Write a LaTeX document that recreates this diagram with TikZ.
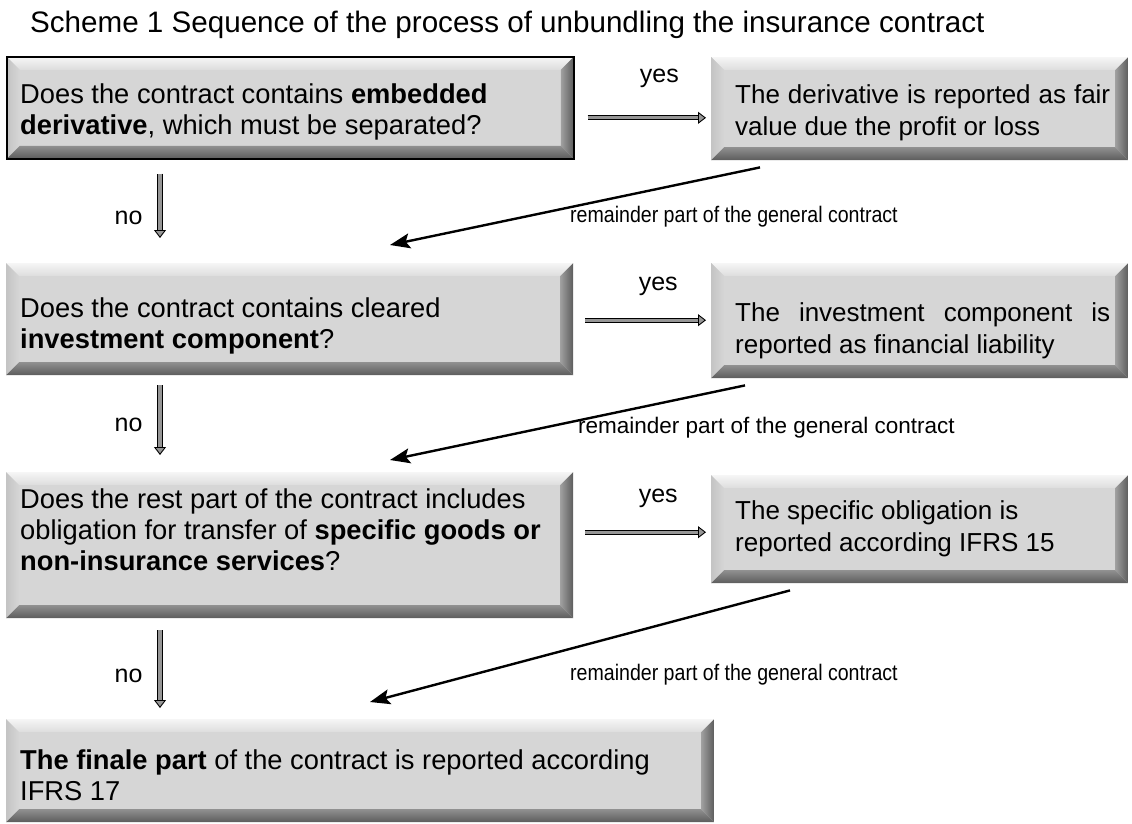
\documentclass[tikz,border=0pt]{standalone}
\usepackage{fontspec}
\setmainfont{Liberation Sans}
\usepackage{xcolor}
\usetikzlibrary{arrows.meta}
\definecolor{BoxFace}{RGB}{214,214,214}
\definecolor{BevelLight}{RGB}{246,246,246}
\definecolor{BevelSide}{RGB}{196,196,196}
\definecolor{BevelDark}{RGB}{92,92,92}
\definecolor{BevelMid}{RGB}{160,160,160}
\definecolor{ShaftGray}{RGB}{150,150,150}
\newcommand\bevelw{13pt}
\newcommand\boxfont{\fontsize{27.3}{31}\selectfont}
\newcommand\rboxfont{\fontsize{26}{32}\selectfont}
\newcommand\labfont{\fontsize{25}{30}\selectfont}
\newcommand\remfont{\fontsize{22.5}{26}\selectfont}

\tikzset{
  bevelbox/.style={rectangle, fill=BoxFace, anchor=north west, inner sep=0pt,
    path picture={
      \coordinate (bnw) at (path picture bounding box.north west);
      \coordinate (bne) at (path picture bounding box.north east);
      \coordinate (bsw) at (path picture bounding box.south west);
      \coordinate (bse) at (path picture bounding box.south east);
      % top and left faces lit, right and bottom faces in shade
      \shade[top color=BevelLight, bottom color=BoxFace!85!white]
        (bnw) -- (bne) -- ([shift={(-\bevelw,-\bevelw)}]bne) -- ([shift={(\bevelw,-\bevelw)}]bnw) -- cycle;
      \shade[left color=BevelSide, right color=BoxFace]
        (bnw) -- ([shift={(\bevelw,-\bevelw)}]bnw) -- ([shift={(\bevelw,\bevelw)}]bsw) -- (bsw) -- cycle;
      \shade[left color=BevelMid, right color=BevelDark]
        (bne) -- (bse) -- ([shift={(-\bevelw,\bevelw)}]bse) -- ([shift={(-\bevelw,-\bevelw)}]bne) -- cycle;
      \shade[top color=BevelMid!90!black, bottom color=BevelDark]
        (bsw) -- ([shift={(\bevelw,\bevelw)}]bsw) -- ([shift={(-\bevelw,\bevelw)}]bse) -- (bse) -- cycle;
    }},
  qbox/.style={bevelbox, minimum width=567pt},
  rbox/.style={bevelbox, minimum width=417pt},
  qtext/.style={anchor=west, inner sep=0pt, align=left, font=\boxfont},
  rtext/.style={anchor=west, inner sep=0pt, text width=375pt, align=justify, font=\rboxfont},
  yesarrow/.style={draw=black, line width=1.1pt, double=ShaftGray, double distance=2.8pt,
    -{Triangle[length=8pt,width=12pt,fill=ShaftGray,line width=0.9pt]}},
  noarrow/.style={yesarrow, double distance=3.8pt},
  remarrow/.style={line width=2.4pt, -{Stealth[length=20pt,width=15pt,inset=4pt]}},
  lab/.style={font=\labfont, inner sep=0pt},
  remlab/.style={anchor=west, font=\remfont, inner sep=0pt}
}

\begin{document}
\begin{tikzpicture}[x=1pt,y=-1pt]
  \useasboundingbox (0,0) rectangle (1132,823);

  \node[anchor=west, inner sep=0pt, font=\fontsize{29.6}{34}\selectfont] (title) at (30,25)
    {Scheme 1 Sequence of the process of unbundling the insurance contract};

  % question boxes on the left
  \node[qbox, draw=black, line width=1.6pt, minimum height=102pt] (q1) at (6,56) {};
  \node[qbox, minimum height=112pt] (q2) at (6,263) {};
  \node[qbox, minimum height=146pt] (q3) at (6,472) {};
  \node[bevelbox, minimum width=708pt, minimum height=103pt] (fin) at (6,719) {};

  % result boxes on the right
  \node[rbox, minimum height=103pt] (r1) at (711,57) {};
  \node[rbox, minimum height=115pt] (r2) at (711,263) {};
  \node[rbox, minimum height=108pt] (r3) at (711,475) {};

  \node[qtext] (q1txt) at ([xshift=14pt,yshift=-4pt]q1.west)
    {Does the contract contains \textbf{embedded}\\\textbf{derivative}, which must be separated?};
  \node[qtext] (q2txt) at ([xshift=14pt,yshift=-7pt]q2.west)
    {Does the contract contains cleared\\\textbf{investment component}?};
  \node[qtext] (q3txt) at ([xshift=14pt,yshift=15pt]q3.west)
    {Does the rest part of the contract includes\\obligation for transfer of \textbf{specific goods or}\\\textbf{non-insurance services}?};
  \node[qtext] (fintxt) at ([xshift=14pt,yshift=-5pt]fin.west)
    {\textbf{The finale part} of the contract is reported according\\IFRS 17};

  \node[rtext] (r1txt) at ([xshift=24pt,yshift=-4pt]r1.west)
    {The derivative is reported as fair\linebreak value due the profit or loss};
  \node[rtext] (r2txt) at ([xshift=24pt,yshift=-10pt]r2.west)
    {The investment component is\linebreak reported as financial liability};
  \node[rtext] (r3txt) at ([xshift=24pt,yshift=0pt]r3.west)
    {The specific obligation is\\reported according IFRS 15};

  % yes branches
  \coordinate (y1) at ([xshift=13pt,yshift=-10pt]q1.east);
  \coordinate (y2) at ([xshift=12pt,yshift=-1pt]q2.east);
  \coordinate (y3) at ([xshift=12pt,yshift=13pt]q3.east);
  \draw[yesarrow, shorten >=5pt] (y1) -- (y1 -| r1.west)
    node[lab, midway, xshift=10pt, yshift=39pt] (yes1) {yes};
  \draw[yesarrow, shorten >=5pt] (y2) -- (y2 -| r2.west)
    node[lab, midway, xshift=10pt, yshift=34pt] (yes2) {yes};
  \draw[yesarrow, shorten >=5pt] (y3) -- (y3 -| r3.west)
    node[lab, midway, xshift=10pt, yshift=34pt] (yes3) {yes};

  % no branches
  \draw[noarrow] ([xshift=154pt,yshift=-14pt]q1.south west) -- ([xshift=154pt,yshift=25pt]q2.north west)
    node[lab, pos=0.68, left=17pt] (no1) {no};
  \draw[noarrow] ([xshift=154pt,yshift=-10pt]q2.south west) -- ([xshift=154pt,yshift=17pt]q3.north west)
    node[lab, pos=0.57, left=17pt] (no2) {no};
  \draw[noarrow] ([xshift=154pt,yshift=-12pt]q3.south west) -- ([xshift=154pt,yshift=11pt]fin.north west)
    node[lab, pos=0.58, left=17pt] (no3) {no};

  % the remainder goes back to the next question
  \draw[remarrow] ([xshift=49pt,yshift=-7pt]r1.south west) -- ([xshift=384pt,yshift=18pt]q2.north west);
  \draw[remarrow] ([xshift=34pt,yshift=-7pt]r2.south west) -- ([xshift=384pt,yshift=12pt]q3.north west);
  \draw[remarrow] ([xshift=79pt,yshift=-7pt]r3.south west) -- ([xshift=364pt,yshift=17pt]fin.north west);
  \node[remlab] (rem1) at (570,217) {\scalebox{0.87}[1]{remainder part of the general contract}};
  \node[remlab] (rem2) at (578,428) {remainder part of the general contract};
  \node[remlab] (rem3) at (570,675) {\scalebox{0.87}[1]{remainder part of the general contract}};
\end{tikzpicture}
\end{document}
